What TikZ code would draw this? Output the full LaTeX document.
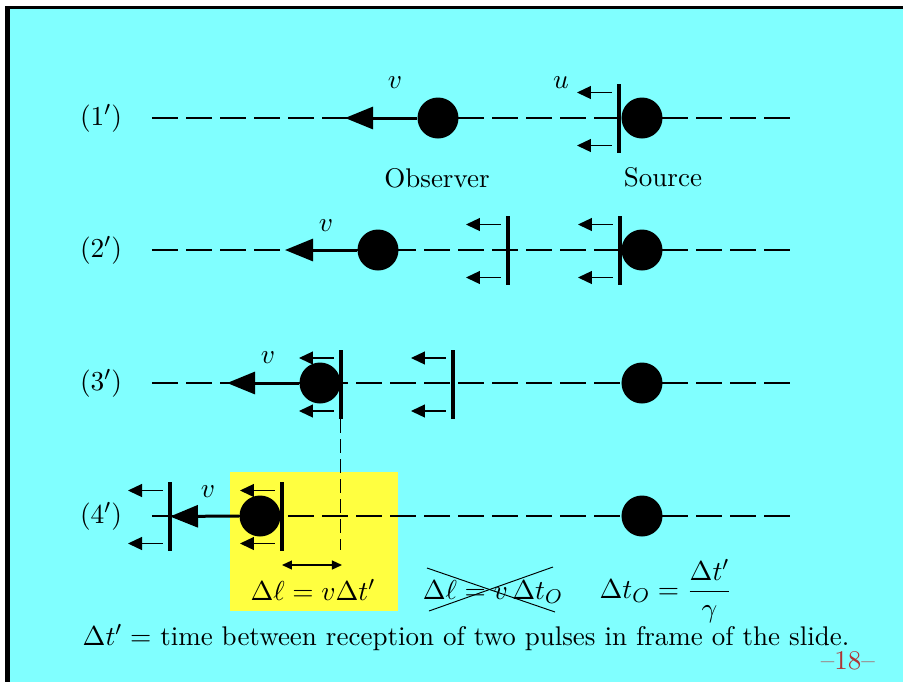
\documentclass[tikz,border=0pt]{standalone}
\usetikzlibrary{arrows.meta,calc}
\definecolor{bg}{RGB}{128,255,255}
\definecolor{hl}{RGB}{255,255,64}
\definecolor{pnum}{RGB}{176,52,52}
\newcommand\pulsegroup[3]{%
  \node[pulse] (#1) at (#2,#3) {};
  \coordinate (#1ua) at ($(#1.center)+(-7,-26)$);
  \coordinate (#1ub) at ($(#1.center)+(-42,-26)$);
  \coordinate (#1la) at ($(#1.center)+(-7,27)$);
  \coordinate (#1lb) at ($(#1.center)+(-42,27)$);
  \draw[ray] (#1ua) -- (#1ub);
  \draw[ray] (#1la) -- (#1lb);
}
\begin{document}
% 1 unit = 1 reference pixel = 0.4pt
\begin{tikzpicture}[x=0.4pt,y=-0.4pt,
  font=\fontsize{10.8}{13}\selectfont,
  obs/.style={circle,fill=black,minimum size=16.4pt,inner sep=0pt},
  pulse/.style={rectangle,fill=black,minimum width=1.6pt,minimum height=27.6pt,inner sep=0pt},
  axis/.style={line width=0.5pt,dash pattern=on 10.4pt off 3.2pt},
  vel/.style={line width=1.2pt,-{Triangle[length=11.2pt,width=8.8pt]}},
  ray/.style={line width=0.5pt,-{Triangle[length=5.6pt,width=5.2pt]}},
  dbl/.style={line width=0.5pt,{Triangle[length=4pt,width=3.6pt]}-{Triangle[length=4pt,width=3.6pt]}},
  vdash/.style={line width=0.4pt,dash pattern=on 5.6pt off 2.4pt},
  cross/.style={line width=0.38pt}]
\useasboundingbox (0,0) rectangle (903,682);
\fill[white] (0,0) rectangle (903,682);
\fill[black] (5,6) rectangle (903,682);
\fill[bg] (10,9) rectangle (903,682);
\fill[hl] (230,472) rectangle (398,611);

% axes
\foreach \n/\y in {1/118,2/250,3/383,4/516}{
  \coordinate (as\n) at (152,\y);
  \coordinate (ae\n) at (790,\y);
  \draw[axis] (as\n) -- (ae\n);
}

% row labels
\node (r1) at (101,118) {$(1')$};
\node (r2) at (101,250) {$(2')$};
\node (r3) at (101,383) {$(3')$};
\node (r4) at (101,516) {$(4')$};

% row 1
\pulsegroup{pa}{619}{118.5}
\node[obs] (s1) at (642,118) {};
\node[obs] (o1) at (438,118) {};
\coordinate (t1) at (345,118);
\draw[vel] (o1.west) -- (t1);
\node (v1) at (395,83) {$v$};
\node (u1) at (561,83) {$u$};
\node (obsl) at (437,178) {Observer};
\node (srcl) at (663,177) {Source};

% row 2
\pulsegroup{pb}{508}{250.5}
\pulsegroup{pc}{620}{250.5}
\node[obs] (s2) at (642,250) {};
\node[obs] (o2) at (378,250) {};
\coordinate (t2) at (285,250);
\draw[vel] (o2.west) -- (t2);
\node (v2) at (326,226) {$v$};

% row 3
\node[obs] (o3) at (320,383) {};
\pulsegroup{pd}{341}{384}
\pulsegroup{pe}{453}{384}
\node[obs] (s3) at (642,383) {};
\coordinate (t3) at (227,383);
\draw[vel] (o3.west) -- (t3);
\node (v3) at (268,358) {$v$};

% vertical marker
\coordinate (vm) at (341,550);
\draw[vdash] (pd.south) -- (vm);

% row 4
\pulsegroup{pf}{170}{516.5}
\node[obs] (o4) at (260,516) {};
\pulsegroup{ph}{282}{516.5}
\node[obs] (s4) at (642,516) {};
\draw[vel] (o4.west) -- (pf.center);
\node (v4) at (208,492) {$v$};

% delta l
\coordinate (da) at (282,565);
\coordinate (db) at (342,565);
\draw[dbl] (da) -- (db);
\node (dl) at (313,590) {$\Delta\ell = v\Delta t'$};
\node (wrong) at (493,592) {$\Delta\ell = v\,\Delta t_O$};
\coordinate (c1) at (427,568);
\coordinate (c2) at (555,612);
\coordinate (c3) at (429,611);
\coordinate (c4) at (553,567);
\draw[cross] (c1) -- (c2);
\draw[cross] (c3) -- (c4);
\node (dil) at (666,591) {$\displaystyle\Delta t_O = \frac{\Delta t'}{\gamma}$};

% bottom
\node (bot) at (466,638) {$\Delta t' =$ time between reception of two pulses in frame of the slide.};
\node[text=pnum] (pn) at (848,661) {--18--};
\end{tikzpicture}
\end{document}
